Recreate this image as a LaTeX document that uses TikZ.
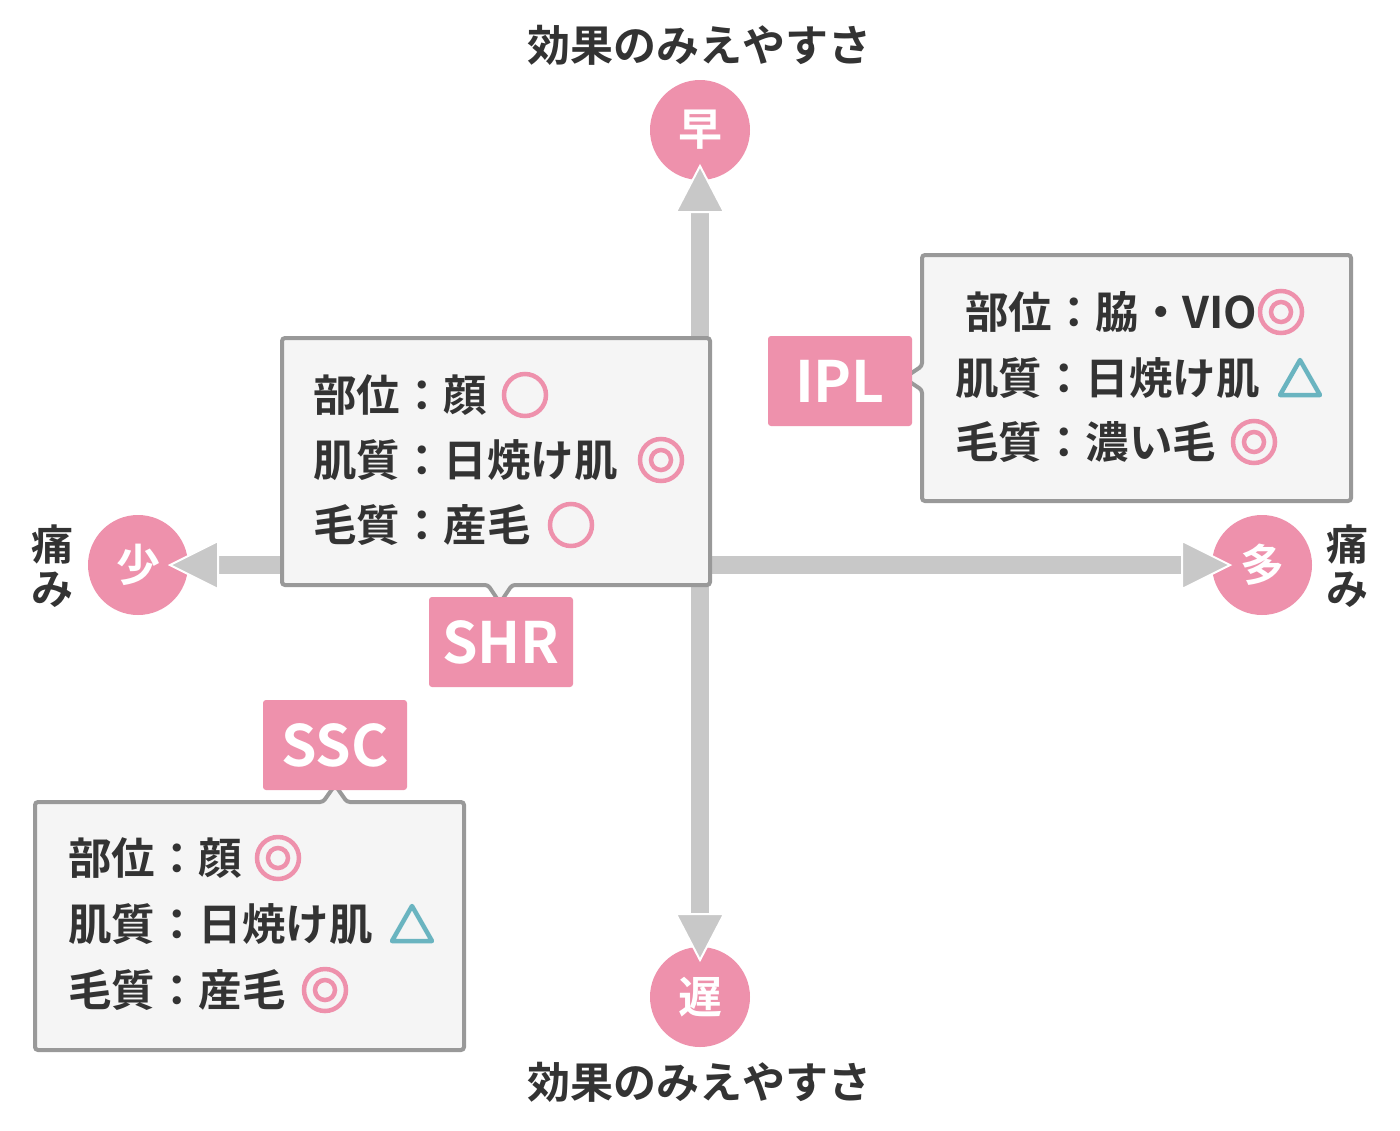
\documentclass[tikz,border=0pt]{standalone}
\usepackage{fontspec}
\setmainfont{Noto Sans CJK JP Bold}
\newfontfamily\jp{Noto Sans CJK JP Bold}
\begin{document}
\begin{tikzpicture}[x=1pt,y=-1pt,
  txt/.style={font=\jp\fontsize{43.5}{48}\selectfont,text=black!80,anchor=west,inner sep=0},
  ttl/.style={font=\jp\fontsize{43}{46}\selectfont,text=black!80,inner sep=0},
  pinkc/.style={circle,fill=pk,minimum size=100pt,inner sep=0,text=white,font=\jp\fontsize{44}{48}\selectfont},
  lab/.style={fill=pk,rounded corners=3pt,minimum width=144pt,minimum height=90pt,text=white,font=\jp\fontsize{57}{60}\selectfont},
  box/.style={fill=boxbg,draw=boxln,line width=4pt,rounded corners=3pt},
  ax/.style={draw=axc,line width=18pt},
  tip/.style={fill=axc,draw=white,line width=2pt},
  ring/.style={draw=pk,line width=4.5pt},
  tri/.style={draw=tl,line width=4.5pt,line join=round}]
\definecolor{pk}{HTML}{EE91AC}
\definecolor{boxbg}{HTML}{F5F5F5}
\definecolor{boxln}{HTML}{999999}
\definecolor{axc}{HTML}{C8C8C8}
\definecolor{tl}{HTML}{6AB4C0}
\useasboundingbox[fill=white] (0,0) rectangle (1400,1130);
% circles
\node[pinkc] (top) at (700,130) {早};
\node[pinkc] (bot) at (700,997) {遅};
\node[pinkc] (lft) at (138,565) {少};
\node[pinkc] (rgt) at (1262,565) {多};
\coordinate (c) at (700,565);
% axes
\draw[ax] (700,205) -- (700,925);
\draw[ax] (210,565) -- (1190,565);
\fill[tip] (700,166) -- (724,212) -- (676,212) -- cycle;
\fill[tip] (700,960) -- (724,914) -- (676,914) -- cycle;
\fill[tip] (170,565) -- (218,541) -- (218,589) -- cycle;
\fill[tip] (1230,565) -- (1182,541) -- (1182,589) -- cycle;
% titles
\node[ttl] (t1) at (699,45) {効果のみえやすさ};
\node[ttl] (t2) at (699,1082) {効果のみえやすさ};
\node[ttl,align=center,font=\jp\fontsize{42}{44}\selectfont] (p1) at (52,566) {痛\\み};
\node[ttl,align=center,font=\jp\fontsize{42}{44}\selectfont] (p2) at (1347,566) {痛\\み};
% SHR
\draw[box] (282,338) -- (710,338) -- (710,585) -- (512,585) -- (500,603) -- (488,585) -- (282,585) -- cycle;
\node[lab] (shr) at (501,642) {SHR};
\node[txt] at (313,395) {部位：顔};
\node[txt] at (313,460) {肌質：日焼け肌};
\node[txt] at (313,525) {毛質：産毛};
\draw[ring] (525,395) circle (21);
\draw[ring] (661,460) circle (21); \draw[ring] (661,460) circle (10);
\draw[ring] (571,525) circle (21);
% IPL
\draw[box] (922,255) -- (1351,255) -- (1351,501) -- (922,501) -- (922,390) -- (904,378) -- (922,366) -- cycle;
\node[lab] (ipl) at (840,381) {IPL};
\node[txt] at (965,312) {部位：脇・VIO};
\node[txt] at (955,378) {肌質：日焼け肌};
\node[txt] at (955,442) {毛質：濃い毛};
\draw[ring] (1281,312) circle (21); \draw[ring] (1281,312) circle (10);
\draw[tri] (1300,360) -- (1320,395) -- (1280,395) -- cycle;
\draw[ring] (1254,442) circle (21); \draw[ring] (1254,442) circle (10);
% SSC
\draw[box] (35,802) -- (323,802) -- (335,785) -- (347,802) -- (464,802) -- (464,1050) -- (35,1050) -- cycle;
\node[lab] (ssc) at (335,745) {SSC};
\node[txt] at (68,858) {部位：顔};
\node[txt] at (68,924) {肌質：日焼け肌};
\node[txt] at (68,990) {毛質：産毛};
\draw[ring] (278,858) circle (21); \draw[ring] (278,858) circle (10);
\draw[tri] (412,906) -- (432,941) -- (392,941) -- cycle;
\draw[ring] (325,990) circle (21); \draw[ring] (325,990) circle (10);
\end{tikzpicture}
\end{document}
